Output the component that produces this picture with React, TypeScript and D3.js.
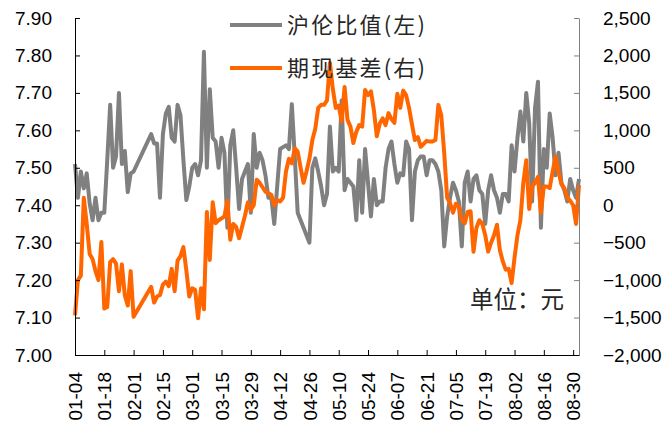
import React, { useEffect, useRef } from "react";
import * as d3 from "d3";

// one label every 10 trading days
const tickLabels = [
  "01-04", "01-18", "02-01", "02-15", "03-01", "03-15", "03-29", "04-12", "04-26",
  "05-10", "05-24", "06-07", "06-21", "07-05", "07-19", "08-02", "08-16", "08-30",
];

const leftTicks = [7.0, 7.1, 7.2, 7.3, 7.4, 7.5, 7.6, 7.7, 7.8, 7.9];
const rightTicks = [-2000, -1500, -1000, -500, 0, 500, 1000, 1500, 2000, 2500];

// 沪伦比值 (left axis), null = no data (holiday)
const ratio = [
  7.51, 7.42, 7.49, 7.445, 7.485, 7.405, 7.36, 7.42, 7.36, 7.38,
  7.38, 7.52, 7.668, 7.5, 7.53, 7.7, 7.51, 7.545, 7.435, 7.485,
  7.49, null, null, null, null, null, 7.59, 7.565, 7.565, 7.42,
  7.59, 7.645, 7.663, 7.58, 7.57, 7.668, 7.64, 7.52, 7.414, 7.45,
  7.5, 7.51, 7.48, 7.52, 7.81, 7.5, 7.71, 7.58, 7.57, 7.5,
  7.58, 7.54, 7.34, 7.56, 7.6, 7.5, 7.39, 7.47, 7.49, 7.51,
  7.38, 7.59, 7.5, 7.54, 7.52, 7.48, 7.42, 7.42, 7.35, 7.45,
  7.55, 7.555, 7.56, 7.55, 7.67, 7.53, 7.38, 7.36, 7.34, 7.32,
  7.3, 7.5, 7.525, 7.49, 7.45, 7.4, 7.43, 7.61, 7.49, 7.5,
  7.49, 7.68, 7.44, 7.47, 7.46, 7.45, 7.36, 7.52, 7.38, 7.55,
  7.46, 7.37, 7.47, 7.4, 7.41, 7.41, 7.5, 7.55, 7.57, 7.51,
  7.46, 7.485, 7.48, 7.57, 7.55, 7.36, 7.49, 7.52, 7.53, 7.53,
  7.48, 7.52, 7.52, 7.51, 7.49, 7.44, 7.29, 7.37, 7.42, 7.46,
  7.44, 7.41, 7.29, 7.46, 7.49, 7.41, 7.47, 7.48, 7.44, 7.43,
  7.35, 7.44, 7.48, 7.44, 7.42, 7.38, 7.43, 7.43, 7.41, 7.56,
  7.49, 7.58, 7.65, 7.57, 7.7, 7.62, 7.41, 7.66, 7.73, 7.34,
  7.55, 7.5, 7.645, 7.58, 7.48, 7.54, 7.46, 7.44, 7.41, 7.47,
  7.44, 7.42, 7.47,
];

// 期现基差 (right axis, 元)
const basis = [
  -1470, -1000, -940, 100, -250, -650, -720, -880, -1000, -490,
  -1380, -1360, -760, -720, -780, -1150, -790, -1200, -1340, -880,
  -1490, null, null, null, null, null, -1090, -1300, -1220, -1200,
  -1060, -1020, -1080, -850, -1150, -740, -680, -560, -870, -1220,
  -1110, -1130, -1510, -1110, -1390, -90, -730, 40, -240, -200,
  -175, -150, 60, -460, -250, -290, -440, -290, -140, 40,
  -60, 0, 340, 300, 240, 180, 160, 140, 0, 70,
  50, 100, 450, 620, 560, 760, 715, 500, 300, 450,
  620, 870, 1020, 1300, 1340, 1340, 1400, 1900, 1550, 1300,
  1330, 1120, 1580, 1140, 1050, 830, 980, 1070, 1050, 1540,
  1470, 1520, 1270, 920, 1090, 1160, 1070, 1230, 1150, 1100,
  1490, 1300, 1530, 1470, 1300, 1080, 870, 910, 780, 820,
  860, 850, 850, 870, 1340, 1200, 700, 100, 30, -100,
  20, -20, -200, -240, -90, -80, -620, -300, -200, -250,
  -400, -620, -500, -400, -260, -600, -750, -860, -850, -1040,
  -700, -400, -200, 300, 600, -50, 250, 300, 380, -100,
  250, 250, 230, 450, 650, 450, 280, 230, 100, 60,
  0, -250, 270,
];

const App: React.FC = () => {
  const svgRef = useRef<SVGSVGElement | null>(null);

  useEffect(() => {
    const width = 665;
    const height = 427;
    const margin = { top: 18, right: 86, bottom: 72, left: 75 };
    const numFont = "'Liberation Sans', Arial, sans-serif";
    const cjkFont = "'Noto Sans CJK SC', sans-serif";

    const svg = d3.select(svgRef.current);
    svg.selectAll("*").remove();
    svg.attr("width", width).attr("height", height);

    const x = d3
      .scaleLinear()
      .domain([0, ratio.length - 1])
      .range([margin.left, width - margin.right]);

    const yL = d3
      .scaleLinear()
      .domain([7.0, 7.9])
      .range([height - margin.bottom, margin.top]);

    const yR = d3
      .scaleLinear()
      .domain([-2000, 2500])
      .range([height - margin.bottom, margin.top]);

    // Lines (gaps are bridged like Excel does)
    const ratioLine = d3
      .line<[number, number]>()
      .x(d => x(d[0]))
      .y(d => yL(d[1]));
    const basisLine = d3
      .line<[number, number]>()
      .x(d => x(d[0]))
      .y(d => yR(d[1]));

    const ratioPts = ratio
      .map((v, i) => [i, v] as [number, number | null])
      .filter(d => d[1] !== null) as [number, number][];
    const basisPts = basis
      .map((v, i) => [i, v] as [number, number | null])
      .filter(d => d[1] !== null) as [number, number][];

    svg
      .append("path")
      .attr("d", ratioLine(ratioPts)!)
      .attr("fill", "none")
      .attr("stroke", "#808080")
      .attr("stroke-width", 4)
      .attr("stroke-linejoin", "round");

    svg
      .append("path")
      .attr("d", basisLine(basisPts)!)
      .attr("fill", "none")
      .attr("stroke", "#FF6600")
      .attr("stroke-width", 4)
      .attr("stroke-linejoin", "round");

    // Left axis
    svg
      .append("g")
      .attr("transform", `translate(${margin.left},0)`)
      .call(
        d3
          .axisLeft(yL)
          .tickValues(leftTicks)
          .tickFormat(d => (+d).toFixed(2))
          .tickSizeInner(-5)
          .tickSizeOuter(0)
          .tickPadding(23)
      )
      .call(g => g.selectAll("line, path").attr("stroke", "#000"))
      .call(g =>
        g.selectAll("text").attr("font-size", 19).attr("font-family", numFont).attr("fill", "#000")
      );

    // Right axis
    svg
      .append("g")
      .attr("transform", `translate(${width - margin.right},0)`)
      .call(
        d3
          .axisRight(yR)
          .tickValues(rightTicks)
          .tickFormat(d3.format(","))
          .tickSizeInner(-5)
          .tickSizeOuter(0)
          .tickPadding(24)
      )
      .call(g => g.selectAll("line, path").attr("stroke", "#808080"))
      .call(g =>
        g.selectAll("text").attr("font-size", 19).attr("font-family", numFont).attr("fill", "#000")
      );

    // X axis, labels rotated
    svg
      .append("g")
      .attr("transform", `translate(0,${height - margin.bottom})`)
      .call(
        d3
          .axisBottom(x)
          .tickValues(tickLabels.map((_, i) => i * 10))
          .tickFormat((_, i) => tickLabels[i])
          .tickSizeInner(-5)
          .tickSizeOuter(0)
      )
      .call(g => g.selectAll("line, path").attr("stroke", "#000"))
      .call(g =>
        g
          .selectAll("text")
          .attr("font-size", 19)
          .attr("font-family", numFont)
          .attr("fill", "#000")
          .attr("transform", "rotate(-90)")
          .attr("x", -17)
          .attr("y", 0)
          .attr("dy", "0.35em")
          .attr("text-anchor", "end")
      );

    // Legend
    const legendItems = [
      { label: "沪伦比值(左)", color: "#808080" },
      { label: "期现基差(右)", color: "#FF6600" },
    ];
    const legend = svg.append("g").attr("transform", "translate(230,25)");
    legendItems.forEach((item, i) => {
      const yPos = i * 43;
      legend
        .append("line")
        .attr("x1", 0)
        .attr("x2", 52)
        .attr("y1", yPos)
        .attr("y2", yPos)
        .attr("stroke", item.color)
        .attr("stroke-width", 4);
      legend
        .append("text")
        .attr("x", 57)
        .attr("y", yPos)
        .attr("dy", "0.35em")
        .attr("font-size", 22)
        .attr("font-family", cjkFont)
        .attr("fill", "#262626")
        .attr("textLength", 138)
        .attr("lengthAdjust", "spacing")
        .text(item.label);
    });

    // Unit note
    svg
      .append("text")
      .attr("x", 470)
      .attr("y", 300)
      .attr("dy", "0.35em")
      .attr("font-size", 23.5)
      .attr("font-family", cjkFont)
      .attr("fill", "#262626")
      .text("单位：元");
  }, []);

  return (
    <svg
      ref={svgRef}
      style={{ position: "absolute", left: 0, top: 0, background: "#fff" }}
    ></svg>
  );
};

export default App;
